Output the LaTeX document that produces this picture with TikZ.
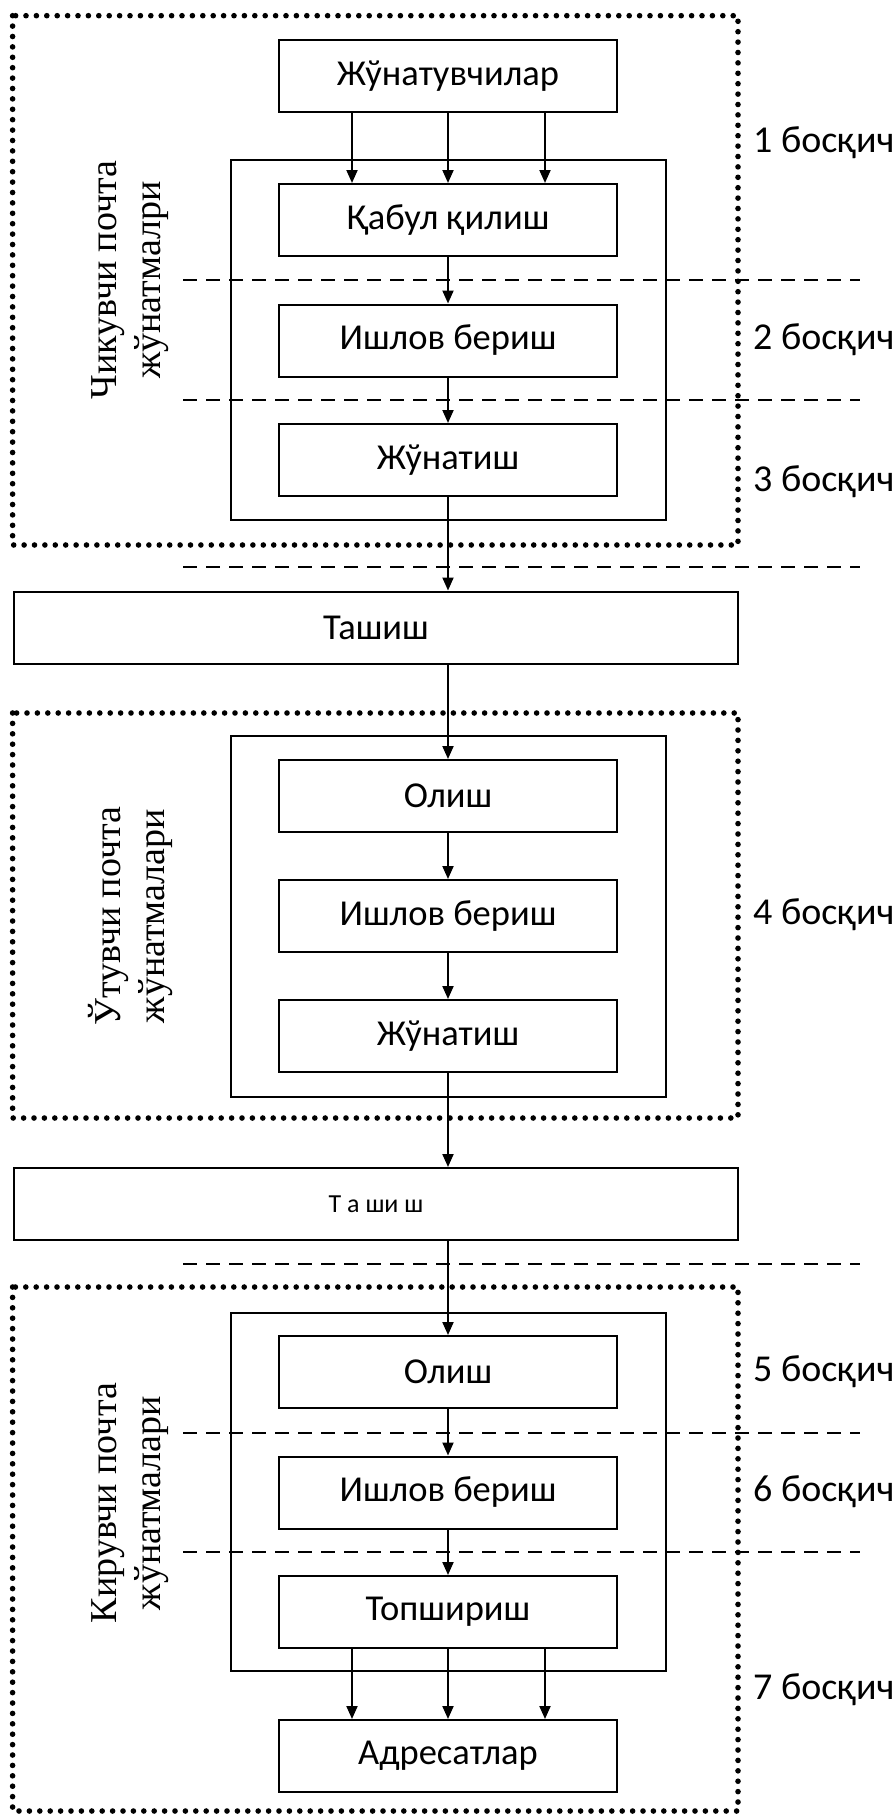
\documentclass[tikz,border=0pt]{standalone}
\usepackage{fontspec}
\setmainfont{Liberation Serif}
\newfontfamily\carlito{Carlito}
\usetikzlibrary{arrows.meta,calc}
\begin{document}
\begin{tikzpicture}[x=1pt,y=-1pt,
  boxtxt/.style={font=\carlito\fontsize{36.5}{44}\selectfont},
  stepbox/.style={draw,line width=2pt,minimum width=338pt,minimum height=72pt,inner sep=0pt,boxtxt},
  widebox/.style={stepbox,minimum width=724pt},
  frame/.style={draw,line width=2.8pt},
  dotframe/.style={draw,line width=5.6pt,line cap=round,dash pattern=on 0pt off 10.4pt},
  sep/.style={line width=1.8pt,dash pattern=on 14pt off 9pt},
  arr/.style={line width=2pt,-{Triangle[length=13pt,width=11pt]}},
  stagelbl/.style={anchor=west,inner sep=0pt,font=\carlito\fontsize{38}{44}\selectfont},
  grouplbl/.style={rotate=90,align=center,font=\fontsize{38}{44}\selectfont,inner sep=0pt}]
\useasboundingbox (0,0) rectangle (894,1817);

% dotted group frames
\draw[dotframe] (12.6,15.7) rectangle (738,545);
\draw[dotframe] (12.6,713) rectangle (738,1118);
\draw[dotframe] (12.6,1287) rectangle (738,1811);

% inner solid frames
\draw[frame] (231,160) rectangle (666,520);
\draw[frame] (231,736) rectangle (666,1097);
\draw[frame] (231,1313) rectangle (666,1671);

% dashed stage separators
\foreach \yy in {280,400,567,1264,1433,1552}
  \draw[sep] (183,\yy) -- (860,\yy);

% boxes
\node[stepbox] (snd)  at (448,76.5) {Жўнатувчилар};
\node[stepbox] (rcv1) at (448,220)  {Қабул қилиш};
\node[stepbox] (prc1) at (448,340.5){Ишлов бериш};
\node[stepbox] (out1) at (448,460)  {Жўнатиш};
\node[widebox] (tr1)  at (376,627.5){Ташиш};
\node[stepbox] (rcv2) at (448,796)  {Олиш};
\node[stepbox] (prc2) at (448,916)  {Ишлов бериш};
\node[stepbox] (out2) at (448,1036) {Жўнатиш};
\node[widebox,font=\carlito\fontsize{26}{32}\selectfont] (tr2) at (376,1204) {Т а ши ш};
\node[stepbox] (rcv3) at (448,1372) {Олиш};
\node[stepbox] (prc3) at (448,1492.5){Ишлов бериш};
\node[stepbox] (dlv)  at (448,1612) {Топшириш};
\node[stepbox] (addr) at (448,1756) {Адресатлар};

% connectors
\foreach \dx in {-96,0,97}{
  \draw[arr] ([xshift=\dx pt]snd.south) -- ([xshift=\dx pt]rcv1.north);
  \draw[arr] ([xshift=\dx pt]dlv.south) -- ([xshift=\dx pt]addr.north);
}
\draw[arr] (rcv1) -- (prc1);
\draw[arr] (prc1) -- (out1);
\draw[arr] (out1.south) -- (out1.south |- tr1.north);
\draw[arr] (rcv2.north |- tr1.south) -- (rcv2.north);
\draw[arr] (rcv2) -- (prc2);
\draw[arr] (prc2) -- (out2);
\draw[arr] (out2.south) -- (out2.south |- tr2.north);
\draw[arr] (rcv3.north |- tr2.south) -- (rcv3.north);
\draw[arr] (rcv3) -- (prc3);
\draw[arr] (prc3) -- (dlv);

% stage labels
\node[stagelbl] (s1) at (753,143)  {1 босқич};
\node[stagelbl] (s2) at (753,340)  {2 босқич};
\node[stagelbl] (s3) at (753,482)  {3 босқич};
\node[stagelbl] (s4) at (753,915)  {4 босқич};
\node[stagelbl] (s5) at (753,1372) {5 босқич};
\node[stagelbl] (s6) at (753,1492) {6 босқич};
\node[stagelbl] (s7) at (753,1690) {7 босқич};

% group labels
\node[grouplbl] (g1) at (130,280)  {Чикувчи почта\\жўнатмалри};
\node[grouplbl] (g2) at (130,916)  {Ўтувчи почта\\жўнатмалари};
\node[grouplbl] (g3) at (130,1503) {Кирувчи почта\\жўнатмалари};
\end{tikzpicture}
\end{document}
